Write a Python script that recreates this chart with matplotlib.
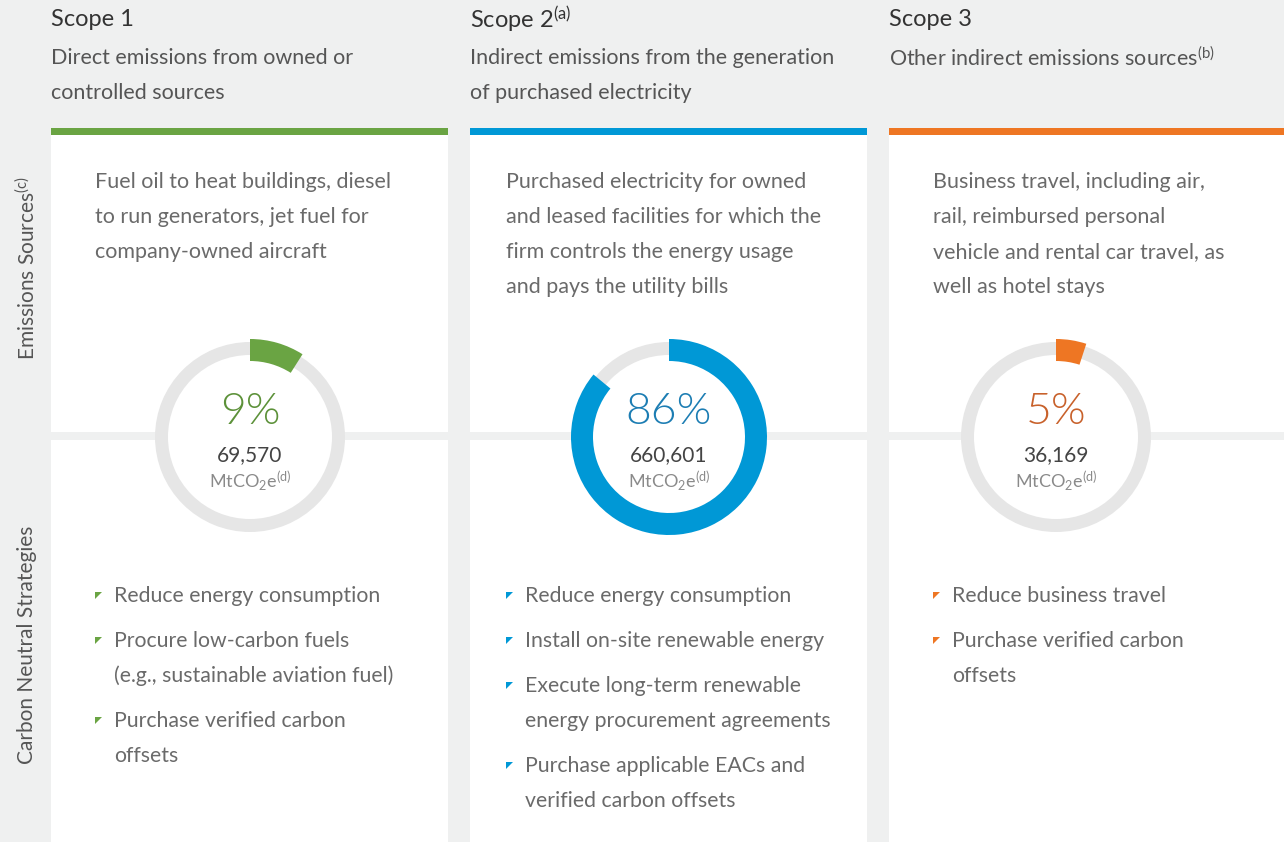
import matplotlib.pyplot as plt
from matplotlib.patches import Rectangle, Wedge, Polygon, Circle

plt.rcParams['font.family'] = ['Lato', 'DejaVu Sans']
plt.rcParams['mathtext.fontset'] = 'custom'
plt.rcParams['mathtext.rm'] = 'Lato'
plt.rcParams['mathtext.it'] = 'Lato'

# data
scopes = ["Scope 1", r"Scope 2$^{\mathrm{(a)}}$", "Scope 3"]
subtitles = ["Direct emissions from owned or\ncontrolled sources",
             "Indirect emissions from the generation\nof purchased electricity",
             r"Other indirect emissions sources$^{\mathrm{(b)}}$"]
sources = ["Fuel oil to heat buildings, diesel\nto run generators, jet fuel for\ncompany-owned aircraft",
           "Purchased electricity for owned\nand leased facilities for which the\nfirm controls the energy usage\nand pays the utility bills",
           "Business travel, including air,\nrail, reimbursed personal\nvehicle and rental car travel, as\nwell as hotel stays"]
shares = [9, 86, 5]
emissions = ["69,570", "660,601", "36,169"]
strategies = [
    ["Reduce energy consumption",
     "Procure low-carbon fuels\n(e.g., sustainable aviation fuel)",
     "Purchase verified carbon\noffsets"],
    ["Reduce energy consumption",
     "Install on-site renewable energy",
     "Execute long-term renewable\nenergy procurement agreements",
     "Purchase applicable EACs and\nverified carbon offsets"],
    ["Reduce business travel",
     "Purchase verified carbon\noffsets"],
]
colors = ["#6aa443", "#0098d6", "#ee7623"]
pct_colors = ["#5c9139", "#1c7db3", "#c8612b"]

BG = "#eff0f0"
RING = "#e6e6e6"

fig = plt.figure(figsize=(12.84, 8.42), dpi=100, facecolor=BG)
ax = fig.add_axes([0, 0, 1, 1])
ax.set_xlim(0, 1284)
ax.set_ylim(842, 0)
ax.axis('off')
ax.set_facecolor(BG)

panel_x = [51, 470, 889]
panel_w = 397
line_h = 35

for i in range(3):
    x0 = panel_x[i]
    w = panel_w if i < 2 else 1284 - x0
    ax.add_patch(Rectangle((x0, 135), w, 842 - 135, facecolor="white", edgecolor="none", zorder=1))
    ax.add_patch(Rectangle((x0, 128), w, 7, facecolor=colors[i], edgecolor="none", zorder=2))
    ax.add_patch(Rectangle((x0, 432), w, 8, facecolor=BG, edgecolor="none", zorder=2))

    ax.text(x0, 20, scopes[i], fontsize=17, color="#333333", va="center", ha="left", zorder=5)
    for k, ln in enumerate(subtitles[i].split("\n")):
        ax.text(x0, 58 + k * line_h, ln, fontsize=15.5, color="#555555", va="center", ha="left", zorder=5)

    tx = x0 + 44 if i != 1 else x0 + 36
    for k, ln in enumerate(sources[i].split("\n")):
        ax.text(tx, 182 + k * line_h, ln, fontsize=15.5, color="#6a6a6a", va="center", ha="left", zorder=5)

    # donut, starting at 12 o'clock and running clockwise (y axis is flipped)
    cx = x0 + 199 if i < 2 else x0 + 167
    cy = 437
    ax.add_patch(Circle((cx, cy), 95, facecolor="white", edgecolor="none", zorder=3))
    ax.add_patch(Wedge((cx, cy), 95, 0, 360, width=13, facecolor=RING, edgecolor="none", zorder=3))
    ax.add_patch(Wedge((cx, cy), 98, -90, -90 + shares[i] * 3.6, width=22,
                       facecolor=colors[i], edgecolor="none", zorder=4))
    ax.text(cx, 412, f"{shares[i]}%", fontsize=32, fontweight=300, color=pct_colors[i],
            ha="center", va="center", zorder=5)
    ax.text(cx, 455, emissions[i], fontsize=15, color="#444444", ha="center", va="center", zorder=5)
    ax.text(cx, 482, r"MtCO$_{\mathrm{2}}$e$^{\mathrm{(d)}}$", fontsize=13, color="#8a8a8a",
            ha="center", va="center", zorder=5)

    # strategies
    bx = x0 + 44 if i != 1 else x0 + 36
    y = 596
    for s in strategies[i]:
        ax.add_patch(Polygon([(bx, y - 4), (bx + 7, y - 4), (bx, y + 3)], closed=True,
                             facecolor=colors[i], edgecolor="none", zorder=5))
        lines = s.split("\n")
        for k, ln in enumerate(lines):
            ax.text(bx + 19, y + k * line_h, ln, fontsize=15.3, color="#6a6a6a", va="center", ha="left", zorder=5)
        y += 45 + (len(lines) - 1) * line_h

ax.text(27, 268, r"Emissions Sources$^{\mathrm{(c)}}$", rotation=90, fontsize=15, color="#555555",
        ha="center", va="center")
ax.text(27, 645, "Carbon Neutral Strategies", rotation=90, fontsize=15, color="#555555",
        ha="center", va="center")

fig.savefig("out.png", dpi=100, facecolor=BG)
